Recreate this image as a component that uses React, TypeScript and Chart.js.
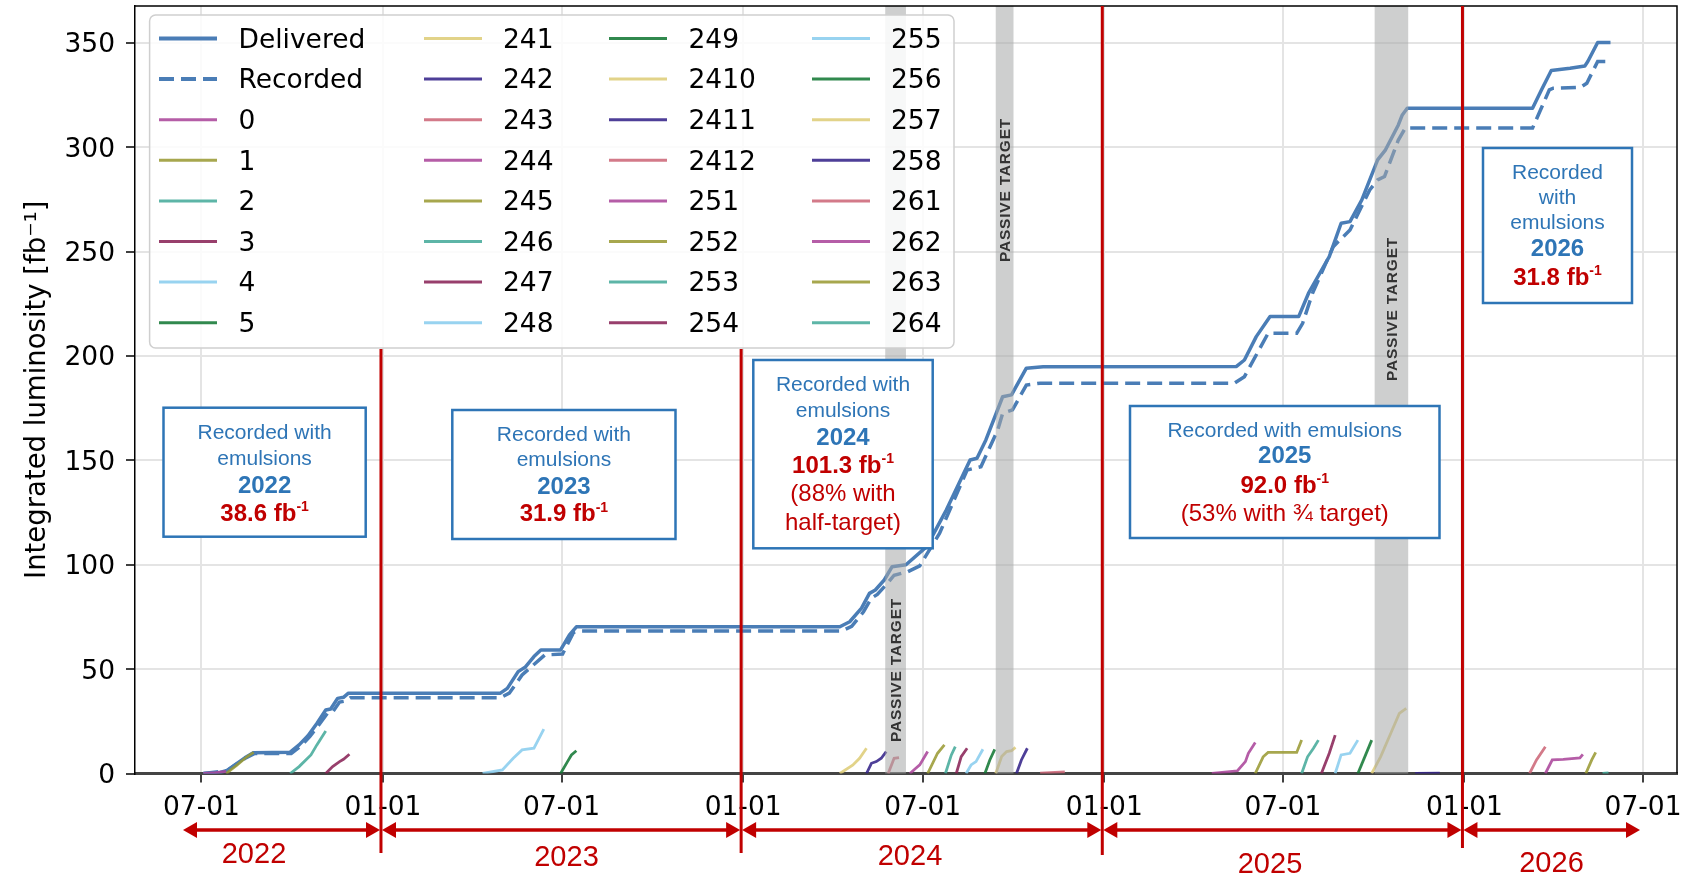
import React, { useEffect, useRef } from 'react';
import { Chart, registerables } from 'chart.js';

Chart.register(...registerables);

const WIDTH = 1682;
const HEIGHT = 875;
const DAY_MS = 86400000;

const dayNum = (iso: string): number => {
  const [y, m, d] = iso.split('-').map(Number);
  return Date.UTC(y, m - 1, d) / DAY_MS;
};

// ---------------------------------------------------------------------------
// Integrated luminosity [fb^-1]
// ---------------------------------------------------------------------------
const deliveredDates = [
  '2022-07-03', '2022-07-20', '2022-07-27', '2022-08-05', '2022-08-14', '2022-08-23',
  '2022-09-29', '2022-10-08', '2022-10-17', '2022-10-26', '2022-11-04', '2022-11-09',
  '2022-11-16', '2022-11-22', '2022-11-27',
  '2023-04-30', '2023-05-07', '2023-05-18', '2023-05-25', '2023-06-03', '2023-06-10',
  '2023-06-30', '2023-07-09', '2023-07-16',
  '2024-04-08', '2024-04-18', '2024-04-30', '2024-05-08', '2024-05-14', '2024-05-23',
  '2024-05-31', '2024-06-14', '2024-07-05', '2024-07-25', '2024-08-18', '2024-08-25',
  '2024-09-03', '2024-09-20', '2024-09-29', '2024-10-14', '2024-10-31',
  '2025-05-15', '2025-05-23', '2025-06-04', '2025-06-18', '2025-07-17', '2025-07-27',
  '2025-08-17', '2025-08-29', '2025-09-07', '2025-09-19', '2025-10-05', '2025-10-13',
  '2025-10-26', '2025-10-30', '2025-11-04',
  '2026-03-11', '2026-03-20', '2026-03-30', '2026-04-18', '2026-05-03', '2026-05-06',
  '2026-05-16', '2026-05-29',
];
const deliveredLumi = [
  0, 0.5, 1.5, 4.5, 7.5, 10,
  10.2, 13.7, 18.1, 24, 30.4, 30.9,
  36, 36.5, 38.5,
  38.5, 40.8, 48.8, 50.9, 56, 59.2,
  59.2, 66.4, 70.3,
  70.3, 72.7, 79.2, 86.3, 87.9, 92.7,
  99.1, 100, 108.7, 126.3, 150.2, 151,
  159.8, 180.5, 181.4, 194.2, 194.9,
  195, 198.1, 209.3, 218.9, 218.9, 230.1,
  247.6, 263.6, 264.4, 274.8, 294, 298.8,
  310.7, 315.5, 318.7,
  318.7, 327.5, 336.8, 337.9, 339, 341.1,
  350.2, 350.2,
];

const recordedDates = [
  '2022-07-03', '2022-07-27', '2022-08-05', '2022-08-14', '2022-08-24', '2022-09-30',
  '2022-10-10', '2022-10-19', '2022-10-28', '2022-11-06', '2022-11-11', '2022-11-18',
  '2022-11-24', '2022-11-29',
  '2023-04-30', '2023-05-09', '2023-05-22', '2023-06-14', '2023-07-02', '2023-07-13',
  '2023-07-20',
  '2024-04-10', '2024-04-20', '2024-05-02', '2024-05-10', '2024-05-16', '2024-05-25',
  '2024-06-02', '2024-06-16', '2024-06-28', '2024-07-18', '2024-08-15', '2024-08-29',
  '2024-09-15', '2024-09-20', '2024-09-30', '2024-10-14', '2024-10-28',
  '2025-05-13', '2025-05-23', '2025-06-16', '2025-07-15', '2025-07-21', '2025-07-31',
  '2025-08-21', '2025-09-07', '2025-09-27', '2025-10-05', '2025-10-12', '2025-10-26',
  '2025-11-02',
  '2026-03-11', '2026-03-28', '2026-04-01', '2026-04-29', '2026-05-05', '2026-05-16',
  '2026-05-27',
];
const recordedLumi = [
  0, 1.4, 4.3, 7.2, 9.6, 9.6,
  13.3, 17.8, 23.3, 29, 29.5, 34.2,
  34.7, 36.3,
  36.3, 38.5, 47.2, 56.8, 57.2, 67.5,
  68.3,
  68.3, 70.5, 77.5, 84, 85.8, 90.5,
  95, 96.7, 99.5, 115, 145.4, 147,
  164.6, 172.6, 174.2, 186.1, 187,
  187, 190.1, 210.9, 210.9, 215.7, 230.1,
  252.4, 260.4, 279.6, 284.4, 286, 303.5,
  309.2,
  309.2, 327.5, 328.3, 328.8, 330.7, 341.1,
  341.1,
];

// Luminosity integrated by each emulsion run, every run starting from zero
type Run = { label: string; dates: string[]; lumi: number[] };

const runs2022: Run[] = [
  { label: '0', dates: ['2022-07-03', '2022-07-15', '2022-07-26'], lumi: [0, 0.4, 1.0] },
  { label: '1', dates: ['2022-07-26', '2022-08-06', '2022-08-16', '2022-08-23'], lumi: [0, 4, 8, 10.1] },
  { label: '2', dates: ['2022-09-29', '2022-10-08', '2022-10-20', '2022-10-26', '2022-11-04'], lumi: [0, 3.3, 8.9, 13.7, 20.4] },
  { label: '3', dates: ['2022-11-04', '2022-11-11', '2022-11-18', '2022-11-22', '2022-11-28'], lumi: [0, 3.3, 5.7, 6.8, 9.2] },
];
const runs2023: Run[] = [
  { label: '4', dates: ['2023-04-12', '2023-05-02', '2023-05-13', '2023-05-22', '2023-06-03', '2023-06-13'], lumi: [0, 1.7, 7.3, 11.3, 12.1, 21.3] },
  { label: '5', dates: ['2023-06-30', '2023-07-07', '2023-07-11', '2023-07-16'], lumi: [0, 5.7, 8.9, 10.9] },
];
const runs2024: Run[] = [
  { label: '241', dates: ['2024-04-08', '2024-04-21', '2024-04-28', '2024-05-05'], lumi: [0, 4, 7.3, 12.1] },
  { label: '242', dates: ['2024-05-05', '2024-05-10', '2024-05-15', '2024-05-20', '2024-05-25'], lumi: [0, 4.9, 5.7, 7.3, 10.5] },
  { label: '243', dates: ['2024-05-27', '2024-06-02', '2024-06-07'], lumi: [0, 7.3, 7.6] },
  { label: '244', dates: ['2024-06-18', '2024-06-24', '2024-06-28', '2024-07-06'], lumi: [0, 2.5, 4.1, 10.5] },
  { label: '245', dates: ['2024-07-06', '2024-07-16', '2024-07-23'], lumi: [0, 9.7, 13.7] },
  { label: '246', dates: ['2024-07-24', '2024-07-30', '2024-08-03'], lumi: [0, 8.9, 12.9] },
  { label: '247', dates: ['2024-08-04', '2024-08-09', '2024-08-15'], lumi: [0, 8.1, 12.1] },
  { label: '248', dates: ['2024-08-14', '2024-08-19', '2024-08-24', '2024-08-31'], lumi: [0, 4.1, 5.7, 11.6] },
  { label: '249', dates: ['2024-09-02', '2024-09-07', '2024-09-12'], lumi: [0, 6.5, 11.6] },
  { label: '2410', dates: ['2024-09-13', '2024-09-19', '2024-09-24', '2024-09-29', '2024-10-03'], lumi: [0, 8.1, 10.5, 10.9, 12.5] },
  { label: '2411', dates: ['2024-10-04', '2024-10-09', '2024-10-15'], lumi: [0, 6.5, 12.1] },
  { label: '2412', dates: ['2024-10-28', '2024-11-22'], lumi: [0.2, 0.8] },
];
const runs2025: Run[] = [
  { label: '251', dates: ['2025-04-20', '2025-05-16', '2025-05-24', '2025-05-27', '2025-06-03'], lumi: [0, 1.3, 5.7, 9.7, 14.8] },
  { label: '252', dates: ['2025-06-03', '2025-06-11', '2025-06-16', '2025-07-15', '2025-07-20'], lumi: [0, 8, 10.1, 10.1, 16] },
  { label: '253', dates: ['2025-07-20', '2025-07-26', '2025-08-01', '2025-08-06'], lumi: [0, 8, 12.1, 16] },
  { label: '254', dates: ['2025-08-09', '2025-08-17', '2025-08-23'], lumi: [0, 9.7, 18.4] },
  { label: '255', dates: ['2025-08-23', '2025-08-29', '2025-09-07', '2025-09-15'], lumi: [0, 8.9, 9.7, 16] },
  { label: '256', dates: ['2025-09-15', '2025-09-29'], lumi: [0, 16] },
  { label: '257', dates: ['2025-09-29', '2025-10-08', '2025-10-19', '2025-10-27', '2025-11-03'], lumi: [0, 8, 20, 28.8, 31.2] },
  { label: '258', dates: ['2025-11-12', '2025-12-07'], lumi: [0, 0.2] },
];
const runs2026: Run[] = [
  { label: '261', dates: ['2026-03-08', '2026-03-15', '2026-03-24'], lumi: [0, 6.5, 12.8] },
  { label: '262', dates: ['2026-03-24', '2026-03-31', '2026-04-11', '2026-04-28', '2026-05-01'], lumi: [0, 6.5, 6.8, 7.5, 9.2] },
  { label: '263', dates: ['2026-05-04', '2026-05-10', '2026-05-14'], lumi: [0, 6.5, 10.1] },
  { label: '264', dates: ['2026-05-21', '2026-05-27'], lumi: [0, 0.3] },
];

// Passive-target periods [start, end]
const passiveStart = ['2024-05-24', '2024-09-13', '2025-10-02'];
const passiveEnd = ['2024-06-14', '2024-10-01', '2025-11-05'];

// Axes
const xTickDates = [
  '2022-07-01', '2023-01-01', '2023-07-01', '2024-01-01', '2024-07-01',
  '2025-01-01', '2025-07-01', '2026-01-01', '2026-07-01',
];
const yTickValues = [0, 50, 100, 150, 200, 250, 300, 350];
const xAxisFrom = dayNum('2022-04-25') - 0.3;
const xAxisTo = dayNum('2026-08-04') + 0.4;
const yAxisTop = 367.7;

const yearStarts = ['2023-01-01', '2024-01-01', '2025-01-01', '2026-01-01'];
const yearNames = ['2022', '2023', '2024', '2025', '2026'];

// ---------------------------------------------------------------------------
// Styles
// ---------------------------------------------------------------------------
const MAIN_COLOR = '#4a7db6';
const runPalette = ['#AA4499', '#999933', '#44AA99', '#882255', '#88CCEE', '#117733', '#DDCC77', '#332288', '#CC6677'];
const BOX_BLUE = '#2e75b6';
const DARK_RED = '#c00000';
const MPL_FONT = '"DejaVu Sans", sans-serif';
const SANS = '"Liberation Sans", Arial, sans-serif';
const fReg = (s: number) => `${s}px ${SANS}`;
const fBold = (s: number) => `bold ${s}px ${SANS}`;

type Seg = { t: string; font: string; color: string; sup?: boolean };
type Box = { rect: [number, number, number, number]; lines: { y: number; segs: Seg[] }[] };

const blueLine = (t: string): Seg[] => [{ t, font: fReg(21), color: BOX_BLUE }];
const yearLine = (t: string): Seg[] => [{ t, font: fBold(24), color: BOX_BLUE }];
const lumiLine = (t: string): Seg[] => [
  { t: `${t} fb`, font: fBold(24), color: DARK_RED },
  { t: '-1', font: fBold(14), color: DARK_RED, sup: true },
];
const redLine = (t: string): Seg[] => [{ t, font: fReg(24), color: DARK_RED }];

const boxes: Box[] = [
  {
    rect: [163.5, 407.7, 365.7, 536.7],
    lines: [
      { y: 431.7, segs: blueLine('Recorded with') },
      { y: 457.7, segs: blueLine('emulsions') },
      { y: 485, segs: yearLine('2022') },
      { y: 512.7, segs: lumiLine('38.6') },
    ],
  },
  {
    rect: [452.3, 410, 675.5, 539],
    lines: [
      { y: 434, segs: blueLine('Recorded with') },
      { y: 458.3, segs: blueLine('emulsions') },
      { y: 486, segs: yearLine('2023') },
      { y: 513.3, segs: lumiLine('31.9') },
    ],
  },
  {
    rect: [753.3, 360, 932.7, 548.3],
    lines: [
      { y: 384, segs: blueLine('Recorded with') },
      { y: 409.3, segs: blueLine('emulsions') },
      { y: 436.7, segs: yearLine('2024') },
      { y: 465, segs: lumiLine('101.3') },
      { y: 493.3, segs: redLine('(88% with') },
      { y: 521.7, segs: redLine('half-target)') },
    ],
  },
  {
    rect: [1130, 406, 1439.5, 538],
    lines: [
      { y: 430, segs: blueLine('Recorded with emulsions') },
      { y: 455, segs: yearLine('2025') },
      { y: 485, segs: lumiLine('92.0') },
      { y: 513, segs: redLine('(53% with ¾ target)') },
    ],
  },
  {
    rect: [1483, 148, 1632, 303],
    lines: [
      { y: 172, segs: blueLine('Recorded') },
      { y: 197, segs: blueLine('with') },
      { y: 222, segs: blueLine('emulsions') },
      { y: 248, segs: yearLine('2026') },
      { y: 277, segs: lumiLine('31.8') },
    ],
  },
];

const LEGEND_BOX = { x0: 149.6, y0: 15, x1: 954, y1: 348 };

const pad2 = (n: number) => (n < 10 ? `0${n}` : `${n}`);
const mmdd = (v: number) => {
  const dt = new Date(Math.round(v) * DAY_MS);
  return `${pad2(dt.getUTCMonth() + 1)}-${pad2(dt.getUTCDate())}`;
};

function drawSegLine(ctx: CanvasRenderingContext2D, cx: number, cy: number, segs: Seg[]) {
  let total = 0;
  const widths = segs.map((s) => {
    ctx.font = s.font;
    const w = ctx.measureText(s.t).width;
    total += w;
    return w;
  });
  let x = cx - total / 2;
  ctx.textAlign = 'left';
  ctx.textBaseline = 'middle';
  segs.forEach((s, i) => {
    ctx.font = s.font;
    ctx.fillStyle = s.color;
    ctx.fillText(s.t, x, s.sup ? cy - 7 : cy);
    x += widths[i];
  });
}

function drawArrow(ctx: CanvasRenderingContext2D, xa: number, xb: number, y: number) {
  const head = 14;
  const half = 8;
  ctx.beginPath();
  ctx.moveTo(xa + head - 1, y);
  ctx.lineTo(xb - head + 1, y);
  ctx.stroke();
  ctx.beginPath();
  ctx.moveTo(xa, y);
  ctx.lineTo(xa + head, y - half);
  ctx.lineTo(xa + head, y + half);
  ctx.closePath();
  ctx.fill();
  ctx.beginPath();
  ctx.moveTo(xb, y);
  ctx.lineTo(xb - head, y - half);
  ctx.lineTo(xb - head, y + half);
  ctx.closePath();
  ctx.fill();
}

const overlayPlugin = {
  id: 'luminosityOverlay',
  afterDatasetsDraw(chart: any) {
    const { ctx, chartArea: a, scales } = chart;
    const xs = scales.x;
    const px = (iso: string) => xs.getPixelForValue(dayNum(iso));
    ctx.save();

    // passive-target bands, laid over the curves
    ctx.fillStyle = 'rgba(165,168,168,0.55)';
    passiveStart.forEach((s, i) => {
      const x1 = px(s);
      const x2 = px(passiveEnd[i]);
      ctx.fillRect(x1, a.top, x2 - x1, a.bottom - a.top);
    });

    // top and right frame
    ctx.strokeStyle = '#000';
    ctx.lineWidth = 1.5;
    ctx.setLineDash([]);
    ctx.beginPath();
    ctx.moveTo(a.left, a.top);
    ctx.lineTo(a.right, a.top);
    ctx.lineTo(a.right, a.bottom);
    ctx.stroke();

    // legend
    const L = LEGEND_BOX;
    ctx.beginPath();
    ctx.roundRect(L.x0, L.y0, L.x1 - L.x0, L.y1 - L.y0, 6);
    ctx.fillStyle = 'rgba(255,255,255,0.85)';
    ctx.fill();
    ctx.strokeStyle = '#cfcfcf';
    ctx.lineWidth = 1.5;
    ctx.stroke();
    const colLine = [159, 424, 609, 812];
    const colText = [238.5, 503, 688.5, 891];
    ctx.font = `26.5px ${MPL_FONT}`;
    ctx.textAlign = 'left';
    ctx.textBaseline = 'middle';
    chart.data.datasets.forEach((ds: any, i: number) => {
      const col = Math.floor(i / 8);
      const row = i % 8;
      const y = 38.5 + row * 40.6;
      ctx.strokeStyle = ds.borderColor;
      ctx.lineWidth = i < 2 ? 4 : 3;
      ctx.setLineDash(ds.borderDash || []);
      ctx.beginPath();
      ctx.moveTo(colLine[col], y);
      ctx.lineTo(colLine[col] + 58, y);
      ctx.stroke();
      ctx.setLineDash([]);
      ctx.fillStyle = '#000';
      ctx.fillText(ds.label, colText[col], y + 2.5);
    });

    // year separators
    ctx.strokeStyle = DARK_RED;
    ctx.fillStyle = DARK_RED;
    ctx.lineWidth = 3;
    const sepBottom = [853, 853, 855, 848];
    const sepX = yearStarts.map((s) => px(s) - 2);
    sepX.forEach((x, i) => {
      const top = x > L.x0 && x < L.x1 ? L.y1 + 1 : a.top;
      ctx.beginPath();
      ctx.moveTo(x, top);
      ctx.lineTo(x, sepBottom[i]);
      ctx.stroke();
    });

    // year span arrows
    ctx.lineWidth = 3.5;
    const arrowY = 830;
    const spanEdges = [182, ...sepX, 1641];
    for (let i = 0; i < yearNames.length; i++) {
      drawArrow(ctx, spanEdges[i] + 1, spanEdges[i + 1] - 1, arrowY);
    }
    const yearLabelX = [254, 566.5, 910, 1270, 1551.5];
    const yearLabelY = [855, 858, 857, 865, 863.5];
    ctx.font = fReg(29);
    ctx.textAlign = 'center';
    ctx.textBaseline = 'middle';
    yearNames.forEach((n, i) => ctx.fillText(n, yearLabelX[i], yearLabelY[i]));

    // yearly summary boxes
    boxes.forEach((b) => {
      const [x0, y0, x1, y1] = b.rect;
      ctx.fillStyle = '#ffffff';
      ctx.fillRect(x0, y0, x1 - x0, y1 - y0);
      ctx.strokeStyle = BOX_BLUE;
      ctx.lineWidth = 2.5;
      ctx.strokeRect(x0, y0, x1 - x0, y1 - y0);
      const cx = (x0 + x1) / 2;
      b.lines.forEach((ln) => drawSegLine(ctx, cx, ln.y + 1.5, ln.segs));
    });

    // band captions
    const captionY = [670, 190, 309];
    ctx.font = fBold(15.5);
    ctx.fillStyle = '#333333';
    ctx.textAlign = 'center';
    ctx.textBaseline = 'middle';
    passiveStart.forEach((s, i) => {
      const cx = (px(s) + px(passiveEnd[i])) / 2;
      ctx.save();
      ctx.translate(cx + 1, captionY[i]);
      ctx.rotate(-Math.PI / 2);
      (ctx as any).letterSpacing = '0.8px';
      ctx.fillText('PASSIVE TARGET', 0, 0);
      ctx.restore();
    });

    ctx.restore();
  },
};

const toPoints = (dates: string[], vals: number[]) => dates.map((d, i) => ({ x: dayNum(d), y: vals[i] }));

export default function App() {
  const canvasRef = useRef<HTMLCanvasElement>(null);

  useEffect(() => {
    const allRuns = [...runs2022, ...runs2023, ...runs2024, ...runs2025, ...runs2026];
    const datasets: any[] = [
      {
        label: 'Delivered',
        data: toPoints(deliveredDates, deliveredLumi),
        borderColor: MAIN_COLOR,
        borderWidth: 3.5,
        borderJoinStyle: 'round',
        pointRadius: 0,
        tension: 0,
        order: 1,
      },
      {
        label: 'Recorded',
        data: toPoints(recordedDates, recordedLumi),
        borderColor: MAIN_COLOR,
        borderWidth: 3.5,
        borderDash: [15, 7],
        pointRadius: 0,
        tension: 0,
        order: 1,
      },
      ...allRuns.map((r, i) => ({
        label: r.label,
        data: toPoints(r.dates, r.lumi),
        borderColor: runPalette[i % runPalette.length] + 'dd',
        borderWidth: 2.8,
        pointRadius: 0,
        tension: 0,
        order: 0,
      })),
    ];

    const tickFont = { family: MPL_FONT, size: 26.5 };
    const chart = new Chart(canvasRef.current as HTMLCanvasElement, {
      type: 'line',
      data: { datasets },
      options: {
        responsive: false,
        devicePixelRatio: 1,
        animation: false,
        events: [],
        layout: { padding: { left: 0, right: 5, top: 6, bottom: 0 } },
        plugins: { legend: { display: false }, tooltip: { enabled: false } },
        scales: {
          x: {
            type: 'linear',
            min: xAxisFrom,
            max: xAxisTo,
            afterBuildTicks: (s: any) => {
              s.ticks = xTickDates.map((d) => ({ value: dayNum(d) }));
            },
            afterFit: (s: any) => {
              s.height = HEIGHT - 773.5;
              s.paddingLeft = 0;
              s.paddingRight = 0;
            },
            ticks: {
              autoSkip: false,
              maxRotation: 0,
              padding: 10,
              color: '#000',
              font: tickFont,
              callback: (v: any) => mmdd(Number(v)),
            },
            grid: { color: '#e4e4e4', lineWidth: 2, tickLength: 9, tickColor: '#000', tickWidth: 1.5 },
            border: { color: '#444', width: 3 },
          },
          y: {
            type: 'linear',
            min: 0,
            max: yAxisTop,
            afterBuildTicks: (s: any) => {
              s.ticks = yTickValues.map((v) => ({ value: v }));
            },
            afterFit: (s: any) => {
              s.width = 135;
              s.paddingTop = 0;
              s.paddingBottom = 0;
            },
            ticks: { padding: 11, color: '#000', font: tickFont, labelOffset: 2.5 },
            grid: { color: '#e4e4e4', lineWidth: 2, tickLength: 9, tickColor: '#000', tickWidth: 1.5 },
            border: { color: '#000', width: 1.5 },
            title: {
              display: true,
              text: 'Integrated luminosity [fb⁻¹]',
              color: '#000',
              font: { family: MPL_FONT, size: 27.5 },
              padding: { top: 21, bottom: 0 },
            },
          },
        },
      } as any,
      plugins: [overlayPlugin],
    });
    return () => chart.destroy();
  }, []);

  return (
    <div style={{ position: 'fixed', left: 0, top: 0, width: WIDTH, height: HEIGHT, background: '#fff' }}>
      <canvas ref={canvasRef} width={WIDTH} height={HEIGHT} style={{ display: 'block', width: WIDTH, height: HEIGHT }} />
    </div>
  );
}
